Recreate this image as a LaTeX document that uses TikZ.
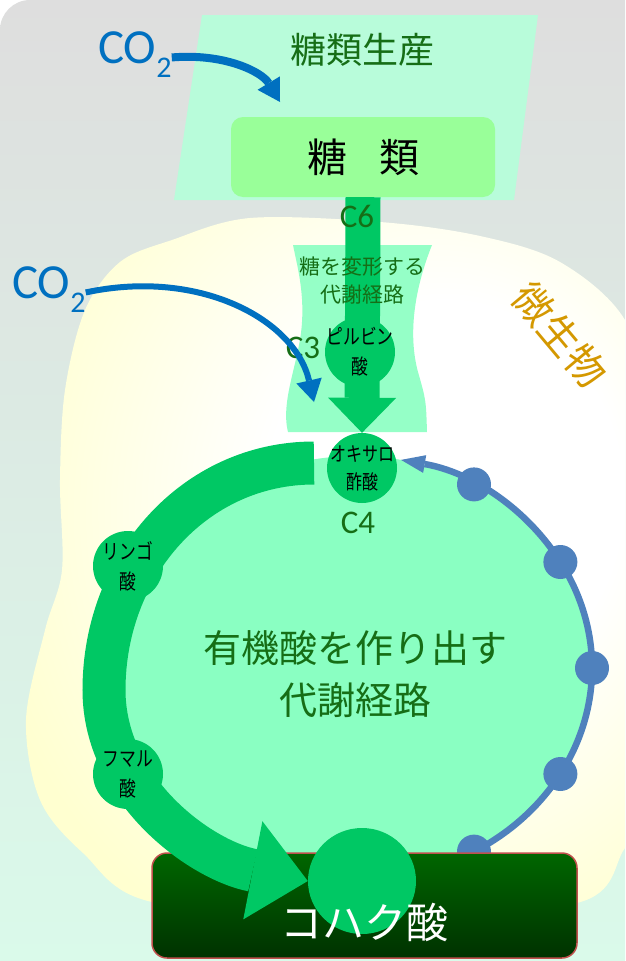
\documentclass[tikz,border=0pt]{standalone}
\usepackage{fontspec}
\setmainfont{Noto Sans CJK JP}
\newfontfamily\kanafont{Noto Sans CJK JP}[FakeStretch=0.8]
\newfontfamily\latinfont{Carlito}
\usepackage{tikz}
\usetikzlibrary{arrows.meta,calc,positioning,shapes.geometric}
\definecolor{leaf}{RGB}{0,200,100}
\definecolor{mint}{RGB}{138,255,194}
\definecolor{palemint}{RGB}{184,252,218}
\definecolor{sugargreen}{RGB}{153,255,153}
\definecolor{forest}{RGB}{22,110,22}
\definecolor{skyblue}{RGB}{0,112,192}
\definecolor{dotblue}{RGB}{79,129,189}
\definecolor{gold}{RGB}{212,152,0}
\definecolor{paleyellow}{RGB}{255,255,208}
\definecolor{darkleaf}{RGB}{0,102,0}
\definecolor{deepleaf}{RGB}{0,50,0}
\definecolor{brick}{RGB}{192,80,77}
\definecolor{topgray}{RGB}{222,222,222}
\definecolor{midgray}{RGB}{236,240,240}
\definecolor{bottommint}{RGB}{218,250,234}
\newcommand{\setfs}[2]{\fontsize{#1pt}{#2pt}\selectfont}
\newcommand{\cotwo}{CO\raisebox{-0.3em}{\setfs{30}{30}2}}
\pgfdeclareradialshading{microbe}{\pgfpoint{10bp}{6bp}}{%
	color(0bp)=(white); color(14bp)=(white); color(34bp)=(paleyellow); color(72bp)=(paleyellow)}
\tikzset{%
	acid/.style       = {ellipse, fill=leaf, inner sep=-10pt, minimum width=70pt, minimum height=70pt, align=center, font=\kanafont\setfs{21}{30}}, % acids
	title/.style      = {text=forest, align=center},
	carbon/.style     = {text=forest, font=\latinfont\setfs{33}{33}},
	gas/.style        = {text=skyblue, inner sep=0pt, anchor=base west, font=\latinfont\setfs{49}{49}},
	gasflow/.style    = {draw=skyblue, -{Triangle[length=22pt,width=26pt,line width=0pt]}},
	trunk/.style      = {draw=leaf, line width=35pt, -{Triangle[length=35pt,width=68pt,line width=0pt]}},
	acidloop/.style   = {draw=leaf, line width=43pt, -{Triangle[length=56pt,width=100pt,line width=0pt]}},
	returnflow/.style = {draw=dotblue, line width=6.5pt, -{Triangle[length=24pt,width=18pt,line width=0pt]}},
	sugarbox/.style   = {rectangle, rounded corners=12pt, fill=sugargreen, minimum width=264pt, minimum height=80pt, font=\setfs{40}{40}},
	succbox/.style    = {rectangle, rounded corners=15pt, draw=brick, line width=1.5pt, top color=darkleaf, bottom color=deepleaf, minimum width=425pt, minimum height=105pt},
}
\begin{document}
\begin{tikzpicture}[x=1pt,y=1pt]
	\useasboundingbox (0,0) rectangle (625,-961);
	\clip (0,0) rectangle (625,-961);
	\shade[top color=topgray, middle color=midgray, bottom color=bottommint] (625,0) -- (30,0) arc[start angle=90, end angle=180, radius=30pt] -- (0,-961) -- (625,-961) -- cycle;
	
	% microbe
	\shade[shading=microbe] plot[smooth cycle, tension=0.55] coordinates {(172,-240) (250,-218) (380,-222) (480,-236) (560,-262) (625,-320) (655,-420) (655,-800) (625,-848) (577,-903) (360,-915) (152,-902) (83,-853) (40,-800) (26,-720) (45,-630) (62,-570) (60,-480) (65,-390) (85,-310) (120,-262)};
	\node[rotate=-50, text=gold, font=\setfs{40}{40}] (microbe) at (560,-335) {微生物};
	
	% sugar production
	\fill[palemint] (202,-15) -- (538,-15) -- (514,-200) -- (174,-200) -- cycle;
	\node[title, font=\setfs{36}{36}] (production) at (362,-50) {糖類生産};
	\node[sugarbox] (sugar) at (363,-157) {糖\hspace{0.8em}類};
	
	\fill[mint, opacity=.9] (293,-245) -- (432,-245) .. controls (414,-290) and (408,-335) .. (418,-372) .. controls (426,-400) .. (427,-432) -- (288,-432) .. controls (280,-400) and (300,-360) .. (302,-322) .. controls (304,-290) and (297,-265) .. (293,-245) -- cycle;
	
	% organic acid pathway
	\fill[mint] (356,-668) ellipse [x radius=236pt, y radius=212pt];
	\node[title, font=\setfs{38}{52}] (pathway) at (355,-674) {有機酸を作り出す\\代謝経路};
	\draw[returnflow] ($(356,-668)+(-70:236 and 212)$) arc[start angle=-70, end angle=79, x radius=236pt, y radius=212pt];
	\foreach \a in {60,30,0,-30,-60}
		\fill[dotblue] ($(356,-668)+(\a:236 and 212)$) circle (17pt);
	
	\node[succbox] (succbox) at (364.5,-905.5) {};
	\node[acid, minimum width=108pt, minimum height=106pt] (succ) at (362,-881) {};
	\draw[acidloop] (314,-463) .. controls (195,-463) and (104,-565) .. (104,-690) .. controls (104,-790) and (200,-860) .. (succ.west);
	\node[acid] (malate) at (128,-566) {リンゴ\\酸};
	\node[acid] (fumarate) at (128,-774) {フマル\\酸};
	\node[text=white, font=\setfs{42}{42}] (succname) at (364,-922) {コハク酸};
	
	\node[acid, font=\kanafont\setfs{20}{28}] (oxalo) at (362,-468) {オキサロ\\酢酸};
	\draw[trunk] (sugar.south) -- (oxalo.north);
	\node[acid] (pyruvate) at (360,-352) {ピルビン\\酸};
	\node[title, font=\setfs{21}{28}] (sugarpath) at (362,-281) {糖を変形する\\代謝経路};
	\node[carbon] (c6) at (357,-216) {C6};
	\node[carbon] (c3) at (303,-348) {C3};
	\node[carbon] (c4) at (358,-523) {C4};
	
	% CO2 inputs
	\node[gas] (co2a) at (98,-63) {\cotwo};
	\coordinate (fixa) at (280,-102);
	\draw[gasflow, line width=8pt] ([yshift=-3pt]co2a.east) .. controls (225,-53) and (262,-72) .. (fixa);
	\node[gas] (co2b) at (12,-298) {\cotwo};
	\coordinate (fixb) at (314,-402);
	\draw[gasflow, line width=6pt] ([yshift=-3pt]co2b.east) .. controls (200,-268) and (295,-320) .. (fixb);
\end{tikzpicture}
\end{document}
